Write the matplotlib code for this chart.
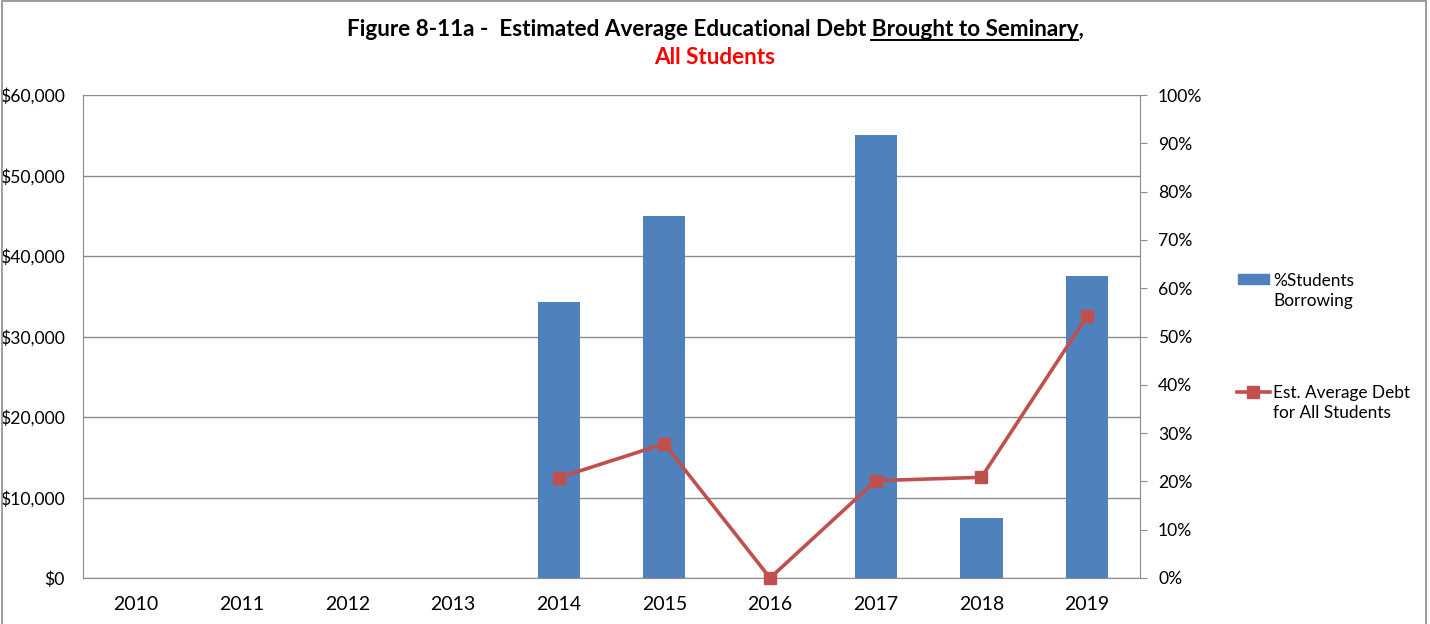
import numpy as np
import matplotlib
matplotlib.use("Agg")
import matplotlib.pyplot as plt
from matplotlib.lines import Line2D
from matplotlib.patches import Rectangle
from matplotlib.ticker import FuncFormatter, MultipleLocator

years = ["2010", "2011", "2012", "2013", "2014", "2015", "2016", "2017", "2018", "2019"]
pct_borrowing = [np.nan, np.nan, np.nan, np.nan, 57.1, 75.0, 0.0, 91.7, 12.5, 62.5]
avg_debt = [np.nan, np.nan, np.nan, np.nan, 12460, 16680, 0, 12090, 12510, 32550]

bar_color = "#4F81BD"
line_color = "#C0504D"
grid_color = "#8C8C8C"
plt.rcParams["font.family"] = ["Lato", "DejaVu Sans"]

W, H = 1430, 624
fig = plt.figure(figsize=(W / 100, H / 100), dpi=100)

# outer chart border
fig.add_artist(Rectangle((2 / W, -0.1), 1424 / W, 1.1 - 1 / H, transform=fig.transFigure,
                         fill=False, edgecolor="#8C8C8C", linewidth=1.2))

pos = [83 / W, 46 / H, 1057 / W, 483 / H]
ax = fig.add_axes(pos)
x = np.arange(len(years))

# dollar axis with gridlines (bottom layer)
ax.set_ylim(0, 60000)
ax.set_xlim(-0.5, len(years) - 0.5)
ax.yaxis.set_major_locator(MultipleLocator(10000))
ax.yaxis.set_major_formatter(FuncFormatter(lambda v, p: "${:,.0f}".format(v)))
ax.grid(axis="y", color=grid_color, linewidth=1)
ax.set_axisbelow(True)
ax.set_xticks(x)
ax.set_xticklabels(years)
ax.tick_params(axis="x", length=0, pad=13, labelsize=14, colors="black")
ax.tick_params(axis="y", length=0, pad=13, labelsize=12.6)
for s in ["top", "right"]:
    ax.spines[s].set_visible(False)
for s in ["left", "bottom"]:
    ax.spines[s].set_color(grid_color)

# percent axis with bars
ax2 = ax.twinx()
ax2.bar(x, pct_borrowing, width=0.4, color=bar_color, zorder=2)
ax2.set_ylim(0, 100)
ax2.yaxis.set_major_locator(MultipleLocator(10))
ax2.yaxis.set_major_formatter(FuncFormatter(lambda v, p: "{:.0f}%".format(v)))
ax2.tick_params(axis="y", length=5, pad=8, labelsize=12.6, color=grid_color)
for s in ["top", "left", "bottom"]:
    ax2.spines[s].set_visible(False)
ax2.spines["right"].set_color(grid_color)

# line on top, sharing the dollar scale
ax3 = fig.add_axes(pos, sharex=ax, sharey=ax)
ax3.set_axis_off()
ax3.plot(x, avg_debt, color=line_color, linewidth=2.6, marker="s", markersize=8,
         clip_on=False)

# title with underlined part
prefix = "Figure 8-11a -  Estimated Average Educational Debt "
under = "Brought to Seminary"
full = prefix + under + ","
tsize = 16.2
t = fig.text(0.5, 1 - 30 / H, full, ha="center", va="center", fontsize=tsize, fontweight="bold")
fig.text(0.5, 1 - 58 / H, "All Students", ha="center", va="center", fontsize=tsize,
         fontweight="bold", color="red")
fig.canvas.draw()
r = fig.canvas.get_renderer()
bb = t.get_window_extent(r)


def width(s):
    tmp = fig.text(0, 0, s, fontsize=tsize, fontweight="bold")
    w = tmp.get_window_extent(r).width
    tmp.remove()
    return w


x_end = bb.x0 + width(prefix + under)
x_start = x_end - width(under)
uy = bb.y0 + 1
fig.add_artist(Line2D([x_start / W, x_end / W], [uy / H, uy / H], transform=fig.transFigure,
                      color="black", linewidth=1.4))

# legend
fig.add_artist(Rectangle((1238 / W, 1 - 284 / H), 31 / W, 10 / H, transform=fig.transFigure,
                         color=bar_color))
fig.text(1273 / W, 1 - 291 / H, "%Students\nBorrowing", fontsize=12.4, va="center",
         ha="left", linespacing=1.3)
fig.add_artist(Line2D([1237 / W, 1270 / W], [1 - 392 / H, 1 - 392 / H], transform=fig.transFigure,
                      color=line_color, linewidth=2.6))
fig.add_artist(Line2D([1253 / W], [1 - 392 / H], transform=fig.transFigure,
                      color=line_color, marker="s", markersize=8, linestyle="none"))
fig.text(1273 / W, 1 - 403 / H, "Est. Average Debt\nfor All Students", fontsize=12.4,
         va="center", ha="left", linespacing=1.3)

fig.savefig("out.png", dpi=100)
